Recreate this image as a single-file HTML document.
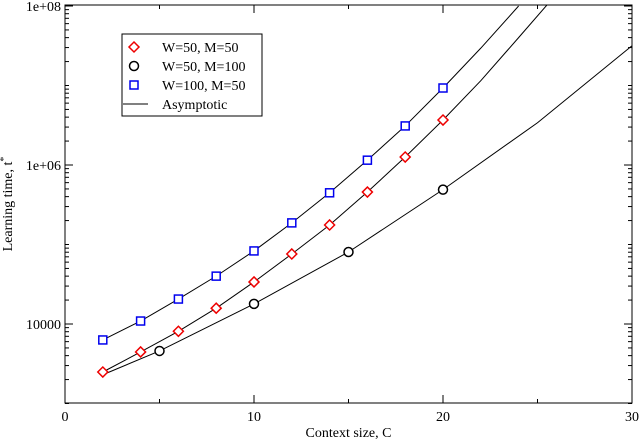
<!DOCTYPE html>
<html><head><meta charset="utf-8"><style>
body{margin:0;background:#fff}
svg text{font-family:"Liberation Serif",serif;font-size:14px}
</style></head><body>
<svg id="chart" width="640" height="441">
<g id="axes"></g><g id="marks"></g>
<g>
<rect x="122" y="34" width="140" height="82" fill="#fff" stroke="#000"/>
<path d="M134 42 L139 47 L134 52 L129 47 Z" fill="none" stroke="#e00" stroke-width="1.5"/>
<text x="162" y="52">W=50, M=50</text>
<circle cx="134" cy="66" r="4.5" fill="none" stroke="#000" stroke-width="1.5"/>
<text x="162" y="71">W=50, M=100</text>
<rect x="130" y="81" width="8" height="8" fill="none" stroke="#00e" stroke-width="1.5"/>
<text x="162" y="90">W=100, M=50</text>
<line x1="123" y1="104" x2="148" y2="104" stroke="#000"/>
<text x="162" y="109">Asymptotic</text>
</g>
</svg>
<script>
const redX=[2,4,6,8,10,12,14,16,18,20];
const redY=[2490,4450,8100,15800,33800,76000,176000,457000,1260000,3680000];
const blueX=[2,4,6,8,10,12,14,16,18,20];
const blueY=[6300,10900,20600,40000,83000,187000,447000,1150000,3100000,9300000];
const blackX=[5,10,15,20];
const blackY=[4580,17900,80500,490000];
const redLineX=[2,4,6,8,10,12,14,16,18,20,22,24,26];
const redLineY=[2490,4450,8100,15800,33800,76000,176000,457000,1260000,3680000,11500000,40000000,141000000];
const blueLineX=[2,4,6,8,10,12,14,16,18,20,22,24];
const blueLineY=[6300,10900,20600,40000,83000,187000,447000,1150000,3100000,9300000,29500000,100000000];
const blackLineX=[2,5,10,15,20,25,30];
const blackLineY=[2300,4580,17900,80500,490000,3400000,31600000];
const xTicks=[0,10,20,30];
const yTicks=[1e4,1e6,1e8];
const yTickLabels=["10000","1e+06","1e+08"];
const L=65,R=632,T=5,B=403;
const sx=v=>L+(v-0)/30*(R-L);
const sy=v=>324-(Math.log10(v)-4)*79.5;
const NS="http://www.w3.org/2000/svg";
const axes=document.getElementById('axes'),marks=document.getElementById('marks');
function mk(p,tag,at){const e=document.createElementNS(NS,tag);for(const k in at)e.setAttribute(k,at[k]);p.appendChild(e);return e;}
let fr=mk(axes,'rect',{x:L,y:T,width:R-L,height:B-T,fill:'none',stroke:'#000'});


for(let i=0;i<=30;i+=5){const X=sx(i),len=i%10==0?8:4;
 mk(axes,'line',{x1:X,y1:B,x2:X,y2:B-len,stroke:'#000'});mk(axes,'line',{x1:X,y1:T,x2:X,y2:T+len,stroke:'#000'});}
xTicks.forEach(v=>{const t=mk(axes,'text',{x:sx(v),y:B+18,'text-anchor':'middle'});t.textContent=v;
 
 });
for(let d=3;d<=8;d++){for(let m=1;m<10;m++){const v=m*Math.pow(10,d),Y=sy(v);if(Y<T-0.5||Y>B+0.5)continue;
 const len=(m==1&&d%2==0)?8:4;mk(axes,'line',{x1:L,y1:Y,x2:L+len,y2:Y,stroke:'#000'});mk(axes,'line',{x1:R,y1:Y,x2:R-len,y2:Y,stroke:'#000'});}}
yTicks.forEach((v,i)=>{const t=mk(axes,'text',{x:L-4,y:sy(v)+5,'text-anchor':'end'});t.textContent=yTickLabels[i];
 
 });
let xt=mk(axes,'text',{x:(L+R)/2,y:437,'text-anchor':'middle'});xt.textContent='Context size, C';


let yt=mk(axes,'text',{x:0,y:0,'text-anchor':'middle',transform:'translate(12,'+((T+B)/2)+') rotate(-90)'});yt.innerHTML='Learning time, t<tspan dy="-5" font-size="10">*</tspan>';


const clip=mk(axes,'clipPath',{id:'cp'});mk(clip,'rect',{x:L,y:T,width:R-L,height:B-T});
function line(xs,ys,name){const d=xs.map((x,i)=>(i?'L':'M')+sx(x)+' '+sy(ys[i])).join(' ');
 const p=mk(marks,'path',{d:d,fill:'none',stroke:'#000','stroke-width':1,'clip-path':'url(#cp)'});
 
 }
line(redLineX,redLineY,'asymptotic-line-w50-m50');
line(blueLineX,blueLineY,'asymptotic-line-w100-m50');
line(blackLineX,blackLineY,'asymptotic-line-w50-m100');
redX.forEach((x,i)=>{const X=sx(x),Y=sy(redY[i]);
 const p=mk(marks,'path',{d:`M${X} ${Y-5}L${X+5} ${Y}L${X} ${Y+5}L${X-5} ${Y}Z`,fill:'#fff',stroke:'#e00','stroke-width':1.5});
 
 });
blueX.forEach((x,i)=>{const X=sx(x),Y=sy(blueY[i]);
 const p=mk(marks,'rect',{x:X-4,y:Y-4,width:8,height:8,fill:'#fff',stroke:'#00e','stroke-width':1.5});
 
 });
blackX.forEach((x,i)=>{const p=mk(marks,'circle',{cx:sx(x),cy:sy(blackY[i]),r:4.5,fill:'#fff',stroke:'#000','stroke-width':1.5});
 
 });
</script>
</body></html>
